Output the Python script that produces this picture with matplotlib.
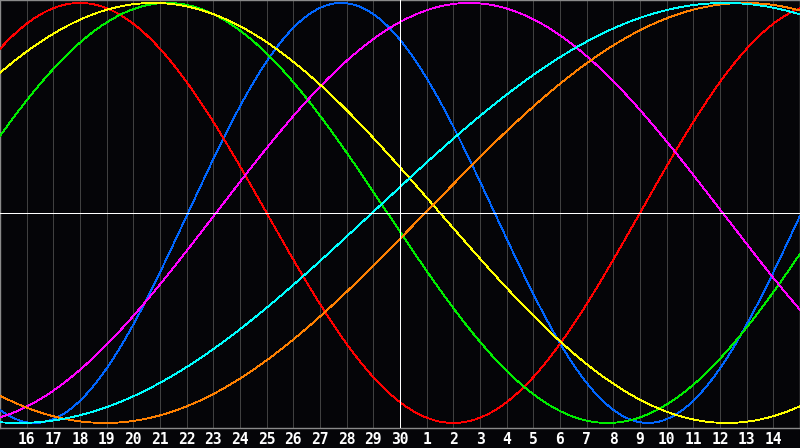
import numpy as np
import matplotlib
matplotlib.use("Agg")
import matplotlib.pyplot as plt

# Day labels along the bottom (today = 30, in the middle)
day_labels = ["16", "17", "18", "19", "20", "21", "22", "23", "24", "25", "26",
              "27", "28", "29", "30", "1", "2", "3", "4", "5", "6", "7", "8",
              "9", "10", "11", "12", "13", "14"]
today_index = 14

# Biorhythm cycles: period (days), days into cycle on "today", colour
cycle_names = ["physical", "emotional", "intellectual", "intuitive",
               "aesthetic", "awareness", "spiritual"]
cycle_periods = [23, 28, 33, 38, 43, 48, 53]
cycle_phase_today = [7.95, 19.0, 16.97, 6.9, 20.0, 47.06, 1.05]
cycle_colors = ["#0066ff", "#ff0000", "#00ee00", "#ff00ff",
                "#ffff00", "#ff8000", "#00ffff"]

bg = "#050508"
fig = plt.figure(figsize=(8.0, 4.48), dpi=100, facecolor=bg)
ax = fig.add_axes([0, 20 / 448, 1, 428 / 448])
ax.set_facecolor(bg)

n = len(day_labels)
x = np.linspace(-1, n, 1200)
ax.set_xlim(-1, n)
ax.set_ylim(-1.024, 1.014)

# day grid
for i in range(n):
    if i == today_index:
        continue
    ax.axvline(i, color="#404040", lw=0.6, zorder=1, antialiased=False)

for P, ph, c in zip(cycle_periods, cycle_phase_today, cycle_colors):
    y = np.sin(2 * np.pi * (ph + (x - today_index)) / P)
    ax.plot(x, y, color=c, lw=0.6, zorder=3, antialiased=False)

ax.axvline(today_index, color="white", lw=0.7, zorder=4, antialiased=False)
ax.axhline(0, color="white", lw=0.7, zorder=4, antialiased=False)

for s in ax.spines.values():
    s.set_color("#8a8a8a")
    s.set_linewidth(1.0)

ax.set_xticks(range(n))
ax.set_xticklabels(day_labels)
ax.tick_params(axis="x", length=0, pad=3, colors="white", labelsize=10.5)
for t in ax.get_xticklabels():
    t.set_fontfamily("DejaVu Sans Mono")
    t.set_fontweight("bold")
ax.set_yticks([])

fig.savefig("out.png", dpi=100, facecolor=bg)
